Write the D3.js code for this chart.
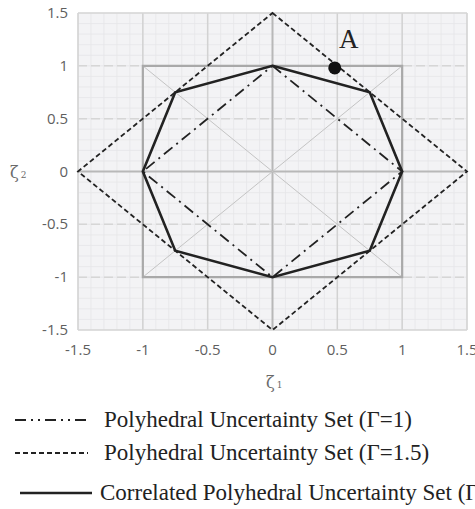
<!DOCTYPE html>
<html>
<head>
<meta charset="utf-8">
<script src="https://cdn.jsdelivr.net/npm/d3@7"></script>
<style>
  body { margin: 0; background: #fff; }
  svg { display: block; }
</style>
</head>
<body>
<svg id="canvas" width="475" height="509"></svg>
<script>
// data
const ticks = [-1.5, -1, -0.5, 0, 0.5, 1, 1.5];
const polyG1 = [[0, 1], [1, 0], [0, -1], [-1, 0]];
const polyG15 = [[0, 1.5], [1.5, 0], [0, -1.5], [-1.5, 0]];
const correlated = [[0, 1], [0.75, 0.75], [1, 0], [0.75, -0.75], [0, -1], [-0.75, -0.75], [-1, 0], [-0.75, 0.75]];
const box = [[-1, 1], [1, 1], [1, -1], [-1, -1]];
const pointA = [0.48, 0.98];
const legendLabels = [
  "Polyhedral Uncertainty Set (\u0393=1)",
  "Polyhedral Uncertainty Set (\u0393=1.5)",
  "Correlated Polyhedral Uncertainty Set (\u0393=1)"
];

let canvas = d3.select("#canvas");

let x = d3.scaleLinear().domain([-1.5, 1.5]).range([78, 467]);
let y = d3.scaleLinear().domain([-1.5, 1.5]).range([330, 13]);

// plot background
canvas.append("rect")
  .attr("x", x(-1.5)).attr("y", y(1.5))
  .attr("width", x(1.5) - x(-1.5)).attr("height", y(-1.5) - y(1.5))
  .attr("fill", "#f3f3f5");

// minor grid
let minor = d3.range(-15, 16).map(d => d / 10);
canvas.append("g").selectAll("line")
  .data(minor).join("line")
  .attr("x1", d => x(d)).attr("x2", d => x(d))
  .attr("y1", y(1.5)).attr("y2", y(-1.5))
  .attr("stroke", "#e6e6e9").attr("stroke-width", 0.8);
canvas.append("g").selectAll("line")
  .data(minor).join("line")
  .attr("y1", d => y(d)).attr("y2", d => y(d))
  .attr("x1", x(-1.5)).attr("x2", x(1.5))
  .attr("stroke", "#e6e6e9").attr("stroke-width", 0.8);

// major grid: vertical solid, horizontal dashed
canvas.append("g").selectAll("line")
  .data(ticks).join("line")
  .attr("x1", d => x(d)).attr("x2", d => x(d))
  .attr("y1", y(1.5)).attr("y2", y(-1.5))
  .attr("stroke", d => d === 0 ? "#b8b8b8" : "#d2d2d2")
  .attr("stroke-width", d => d === 0 ? 2 : 1.5);
canvas.append("g").selectAll("line")
  .data(ticks).join("line")
  .attr("y1", d => y(d)).attr("y2", d => y(d))
  .attr("x1", x(-1.5)).attr("x2", x(1.5))
  .attr("stroke", d => d === 0 ? "#b8b8b8" : "#d6d6d6")
  .attr("stroke-width", d => d === 0 ? 2 : 1.5)
  .attr("stroke-dasharray", d => (d === 0 || Math.abs(d) === 1.5) ? null : "9,4");

// diagonals
let line = d3.line().x(d => x(d[0])).y(d => y(d[1]));
canvas.append("path").attr("d", line([box[0], box[2]]))
  .attr("stroke", "#c4c4c4").attr("stroke-width", 1).attr("fill", "none");
canvas.append("path").attr("d", line([box[3], box[1]]))
  .attr("stroke", "#c4c4c4").attr("stroke-width", 1).attr("fill", "none");

// box
let closed = d3.line().x(d => x(d[0])).y(d => y(d[1])).curve(d3.curveLinearClosed);
canvas.append("path").attr("d", closed(box))
  .attr("stroke", "#a9a9a9").attr("stroke-width", 2.2).attr("fill", "none");

// tick labels
canvas.append("g").selectAll("text")
  .data(ticks).join("text")
  .attr("x", 68).attr("y", d => y(d) + 5)
  .attr("text-anchor", "end")
  .style("font-family", "Open Sans, sans-serif").style("font-size", "15px")
  .attr("fill", "#5f5f5f")
  .text(d => d);
canvas.append("g").selectAll("text")
  .data(ticks).join("text")
  .attr("x", d => x(d)).attr("y", 355)
  .attr("text-anchor", "middle")
  .style("font-family", "Open Sans, sans-serif").style("font-size", "15px")
  .attr("fill", "#5f5f5f")
  .text(d => d);

// axis titles
let t2 = canvas.append("text").attr("x", 10).attr("y", y(0) + 6)
  .style("font-family", "DejaVu Serif, serif").style("font-size", "16px").attr("fill", "#6a6a6a");
t2.append("tspan").text("\u03b6");
t2.append("tspan").attr("dx", 2).style("font-size", "9px").text("2");
let t1 = canvas.append("text").attr("x", 266).attr("y", 388)
  .style("font-family", "DejaVu Serif, serif").style("font-size", "16px").attr("fill", "#6a6a6a");
t1.append("tspan").text("\u03b6");
t1.append("tspan").attr("dx", 2).style("font-size", "9px").text("1");

// uncertainty sets
canvas.append("path").attr("d", closed(polyG1))
  .attr("stroke", "#222").attr("stroke-width", 1.8).attr("fill", "none")
  .attr("stroke-dasharray", "11,5,2,5");
canvas.append("path").attr("d", closed(polyG15))
  .attr("stroke", "#222").attr("stroke-width", 1.8).attr("fill", "none")
  .attr("stroke-dasharray", "5,3");
canvas.append("path").attr("d", closed(correlated))
  .attr("stroke", "#222").attr("stroke-width", 2.6).attr("fill", "none")
  .attr("stroke-linejoin", "miter");

// point A
canvas.append("circle").attr("cx", x(pointA[0])).attr("cy", y(pointA[1]))
  .attr("r", 6.5).attr("fill", "#111");
canvas.append("text").attr("x", 339).attr("y", 48)
  .style("font-family", "Liberation Serif, serif").style("font-size", "27px")
  .attr("fill", "#222").text("A");

// legend
let dashes = ["11,5,2,5,2,5", "5,3", null];
let legend = canvas.append("g").selectAll("g")
  .data(legendLabels).join("g")
  .attr("transform", (d, i) => "translate(0," + [420, 453, 493][i] + ")");
legend.append("line")
  .attr("x1", (d, i) => i === 2 ? 20 : 15).attr("x2", (d, i) => i === 2 ? 92 : 88)
  .attr("y1", 0).attr("y2", 0)
  .attr("stroke", "#222").attr("stroke-width", (d, i) => i === 2 ? 2.6 : 1.8)
  .attr("stroke-dasharray", (d, i) => dashes[i]);
legend.append("text")
  .attr("x", (d, i) => i === 2 ? 100 : 104).attr("y", 7)
  .style("font-family", "Liberation Serif, serif").style("font-size", "23px")
  .attr("fill", "#222")
  .text(d => d);
</script>
</body>
</html>
